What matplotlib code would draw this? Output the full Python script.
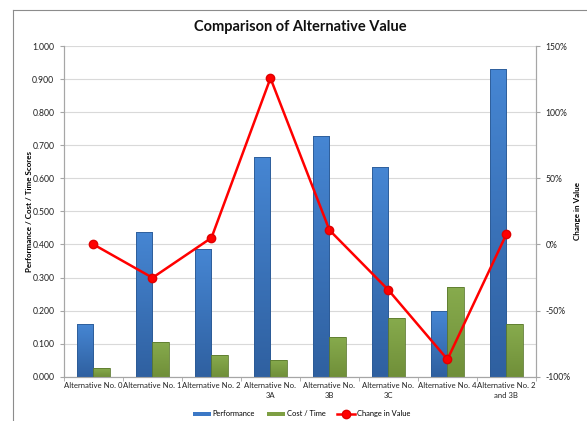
import numpy as np
import matplotlib.pyplot as plt
from matplotlib.lines import Line2D
from matplotlib.ticker import FuncFormatter
from matplotlib.colors import LinearSegmentedColormap

plt.rcParams['font.family'] = ['Lato', 'DejaVu Sans']

alternatives = ['Alternative No. 0', 'Alternative No. 1', 'Alternative No. 2',
                'Alternative No.\n3A', 'Alternative No.\n3B', 'Alternative No.\n3C',
                'Alternative No. 4', 'Alternative No. 2\nand 3B']
performance = [0.158, 0.438, 0.387, 0.663, 0.728, 0.635, 0.199, 0.929]
cost_time = [0.025, 0.106, 0.066, 0.052, 0.121, 0.179, 0.272, 0.158]
change_in_value = [0.0, -25.2, 5.0, 125.7, 10.8, -34.5, -86.9, 7.8]

fig = plt.figure(figsize=(5.87, 4.21), dpi=100)
ax = fig.add_axes([0.109, 0.1052, 0.804, 0.7855])
ax2 = ax.twinx()

x = np.arange(len(alternatives))
w = 0.285
grid_c = '#d9d9d9'
axis_c = '#a6a6a6'

perf_bars = ax.bar(x - w / 2, performance, w, color='#3b78c6', edgecolor='none',
                   label='Performance', zorder=3)
cost_bars = ax.bar(x + w / 2, cost_time, w, color='#7e9f43', edgecolor='none',
                   label='Cost / Time', zorder=3)


def shade(bars, top, bottom, edge):
    # vertical fill from a light top to a darker base, clipped to each bar
    cmap = LinearSegmentedColormap.from_list('shade', [bottom, top])
    grad = np.linspace(0, 1, 128).reshape(-1, 1)
    for b in bars:
        x0, y0 = b.get_x(), b.get_y()
        im = ax.imshow(grad, cmap=cmap, aspect='auto', origin='lower',
                       extent=[x0, x0 + b.get_width(), y0, y0 + b.get_height()],
                       zorder=3.5)
        im.set_clip_path(b)
    ax.bar([b.get_x() + b.get_width() / 2 for b in bars],
           [b.get_height() for b in bars], w, fill=False,
           edgecolor=edge, linewidth=0.6, zorder=3.8)


shade(perf_bars, '#4686d3', '#2f60a0', '#2c5a94')
shade(cost_bars, '#87ab4d', '#708f39', '#5c7a2e')
ax.set_aspect('auto')

ax2.plot(x, change_in_value, color='#ff0000', lw=1.8, marker='o', ms=6,
         mfc='#ff0000', mec='#e00000', label='Change in Value', zorder=4)

ax.set_xlim(-0.5, len(alternatives) - 0.5)
ax.set_ylim(0, 1.0)
ax.set_yticks(np.arange(0, 1.01, 0.1))
ax.yaxis.set_major_formatter(FuncFormatter(lambda v, p: '%.3f' % v))
ax2.set_ylim(-100, 150)
ax2.set_yticks(np.arange(-100, 151, 50))
ax2.yaxis.set_major_formatter(FuncFormatter(lambda v, p: '%d%%' % v))

ax.grid(axis='y', color=grid_c, lw=0.8, zorder=0)
ax.set_axisbelow(True)

# category labels centred on groups, tick marks between groups
ax.set_xticks(x)
ax.set_xticklabels(alternatives, fontsize=5.6, color='#222222', linespacing=1.5)
ax.tick_params(axis='x', length=0, pad=4)
ax.set_xticks(np.arange(-0.5, len(alternatives), 1), minor=True)
ax.tick_params(axis='x', which='minor', length=3, color=axis_c)

ax.tick_params(axis='y', labelsize=6.2, length=3, color=axis_c, labelcolor='#222222', pad=4)
ax2.tick_params(axis='y', labelsize=6.2, length=3, color=axis_c, labelcolor='#222222', pad=4)

for a in (ax, ax2):
    a.spines['top'].set_visible(False)
    for s in ('left', 'right', 'bottom'):
        a.spines[s].set_color(axis_c)
        a.spines[s].set_linewidth(0.8)

ax.set_ylabel('Performance / Cost / Time Scores', fontsize=5.8, fontweight='bold')
ax.yaxis.set_label_coords(-0.066, 0.5)
ax2.set_ylabel('Change in Value', fontsize=5.8, fontweight='bold')
ax2.yaxis.set_label_coords(1.08, 0.5)

fig.text(0.511, 0.936, 'Comparison of Alternative Value', ha='center', va='center',
         fontsize=10.5, fontweight='bold', color='#111111')

handles = [perf_bars, cost_bars, ax2.lines[0]]
labels = ['Performance', 'Cost / Time', 'Change in Value']
fig.legend(handles, labels, loc='center', bbox_to_anchor=(0.514, 0.017), ncol=3,
           frameon=False, fontsize=5.4, handlelength=2.4, handleheight=0.5,
           columnspacing=1.6, handletextpad=0.2)

# outer chart frame
fig.add_artist(Line2D([13 / 587, 1.0], [1 - 10 / 421, 1 - 10 / 421],
                      transform=fig.transFigure, color='#8c8c8c', lw=0.8))
fig.add_artist(Line2D([13 / 587, 13 / 587], [0.0, 1 - 10 / 421],
                      transform=fig.transFigure, color='#8c8c8c', lw=0.8))

fig.savefig('out.png', dpi=100)
